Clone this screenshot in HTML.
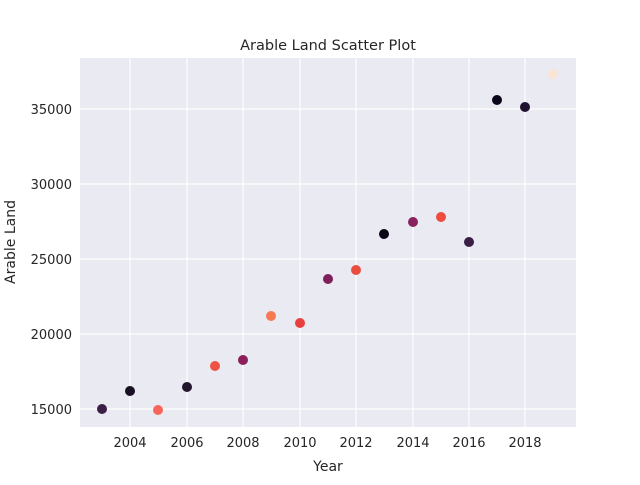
<!DOCTYPE html>
<html><head><meta charset="utf-8"><style>body{margin:0;background:#fff}</style></head><body>
<svg width="640" height="480" xmlns="http://www.w3.org/2000/svg" font-family="DejaVu Sans, Liberation Sans, sans-serif" fill="#262626">
<rect x="0" y="0" width="640" height="480" fill="#fff"/>
<rect x="80" y="58" width="496" height="369" fill="#eaeaf2"/>
<g stroke="#fff" stroke-width="1.2">
<line x1="130" y1="58" x2="130" y2="427"/><line x1="187" y1="58" x2="187" y2="427"/>
<line x1="243" y1="58" x2="243" y2="427"/><line x1="300" y1="58" x2="300" y2="427"/>
<line x1="356" y1="58" x2="356" y2="427"/><line x1="413" y1="58" x2="413" y2="427"/>
<line x1="469" y1="58" x2="469" y2="427"/><line x1="525" y1="58" x2="525" y2="427"/>
<line x1="80" y1="409" x2="576" y2="409"/><line x1="80" y1="334" x2="576" y2="334"/>
<line x1="80" y1="259" x2="576" y2="259"/><line x1="80" y1="184" x2="576" y2="184"/>
<line x1="80" y1="109" x2="576" y2="109"/>
</g>
<g>
<circle cx="102" cy="409" r="5" fill="#3b1f47"/>
<circle cx="130" cy="391" r="5" fill="#1a1025"/>
<circle cx="158" cy="410" r="5" fill="#f7665b"/>
<circle cx="187" cy="387" r="5" fill="#22152e"/>
<circle cx="215" cy="366" r="5" fill="#ef5245"/>
<circle cx="243" cy="360" r="5" fill="#8a1f5a"/>
<circle cx="271" cy="316" r="5" fill="#f57a52"/>
<circle cx="300" cy="323" r="5" fill="#e83f3f"/>
<circle cx="328" cy="279" r="5" fill="#7e1e5a"/>
<circle cx="356" cy="270" r="5" fill="#ea4c3f"/>
<circle cx="384" cy="234" r="5" fill="#0c0618"/>
<circle cx="413" cy="222" r="5" fill="#8a2260"/>
<circle cx="441" cy="217" r="5" fill="#ed4c3e"/>
<circle cx="469" cy="242" r="5" fill="#3a1e46"/>
<circle cx="497" cy="100" r="5" fill="#0b0618"/>
<circle cx="525" cy="107" r="5" fill="#1d1230"/>
<circle cx="553" cy="74" r="5" fill="#fae5d4"/>
</g>
<g font-size="13" text-anchor="middle">
<text x="130" y="447">2004</text><text x="187" y="447">2006</text><text x="243" y="447">2008</text>
<text x="300" y="447">2010</text><text x="356" y="447">2012</text><text x="413" y="447">2014</text>
<text x="469" y="447">2016</text><text x="525" y="447">2018</text>
</g>
<g font-size="13" text-anchor="end">
<text x="72" y="414">15000</text><text x="72" y="339">20000</text><text x="72" y="264">25000</text>
<text x="72" y="189">30000</text><text x="72" y="114">35000</text>
</g>
<text x="328" y="471" font-size="14" text-anchor="middle">Year</text>
<text transform="translate(15,242) rotate(-90)" font-size="14" text-anchor="middle">Arable Land</text>
<text x="328" y="50" font-size="14.5" text-anchor="middle">Arable Land Scatter Plot</text>
</svg>
</body></html>
